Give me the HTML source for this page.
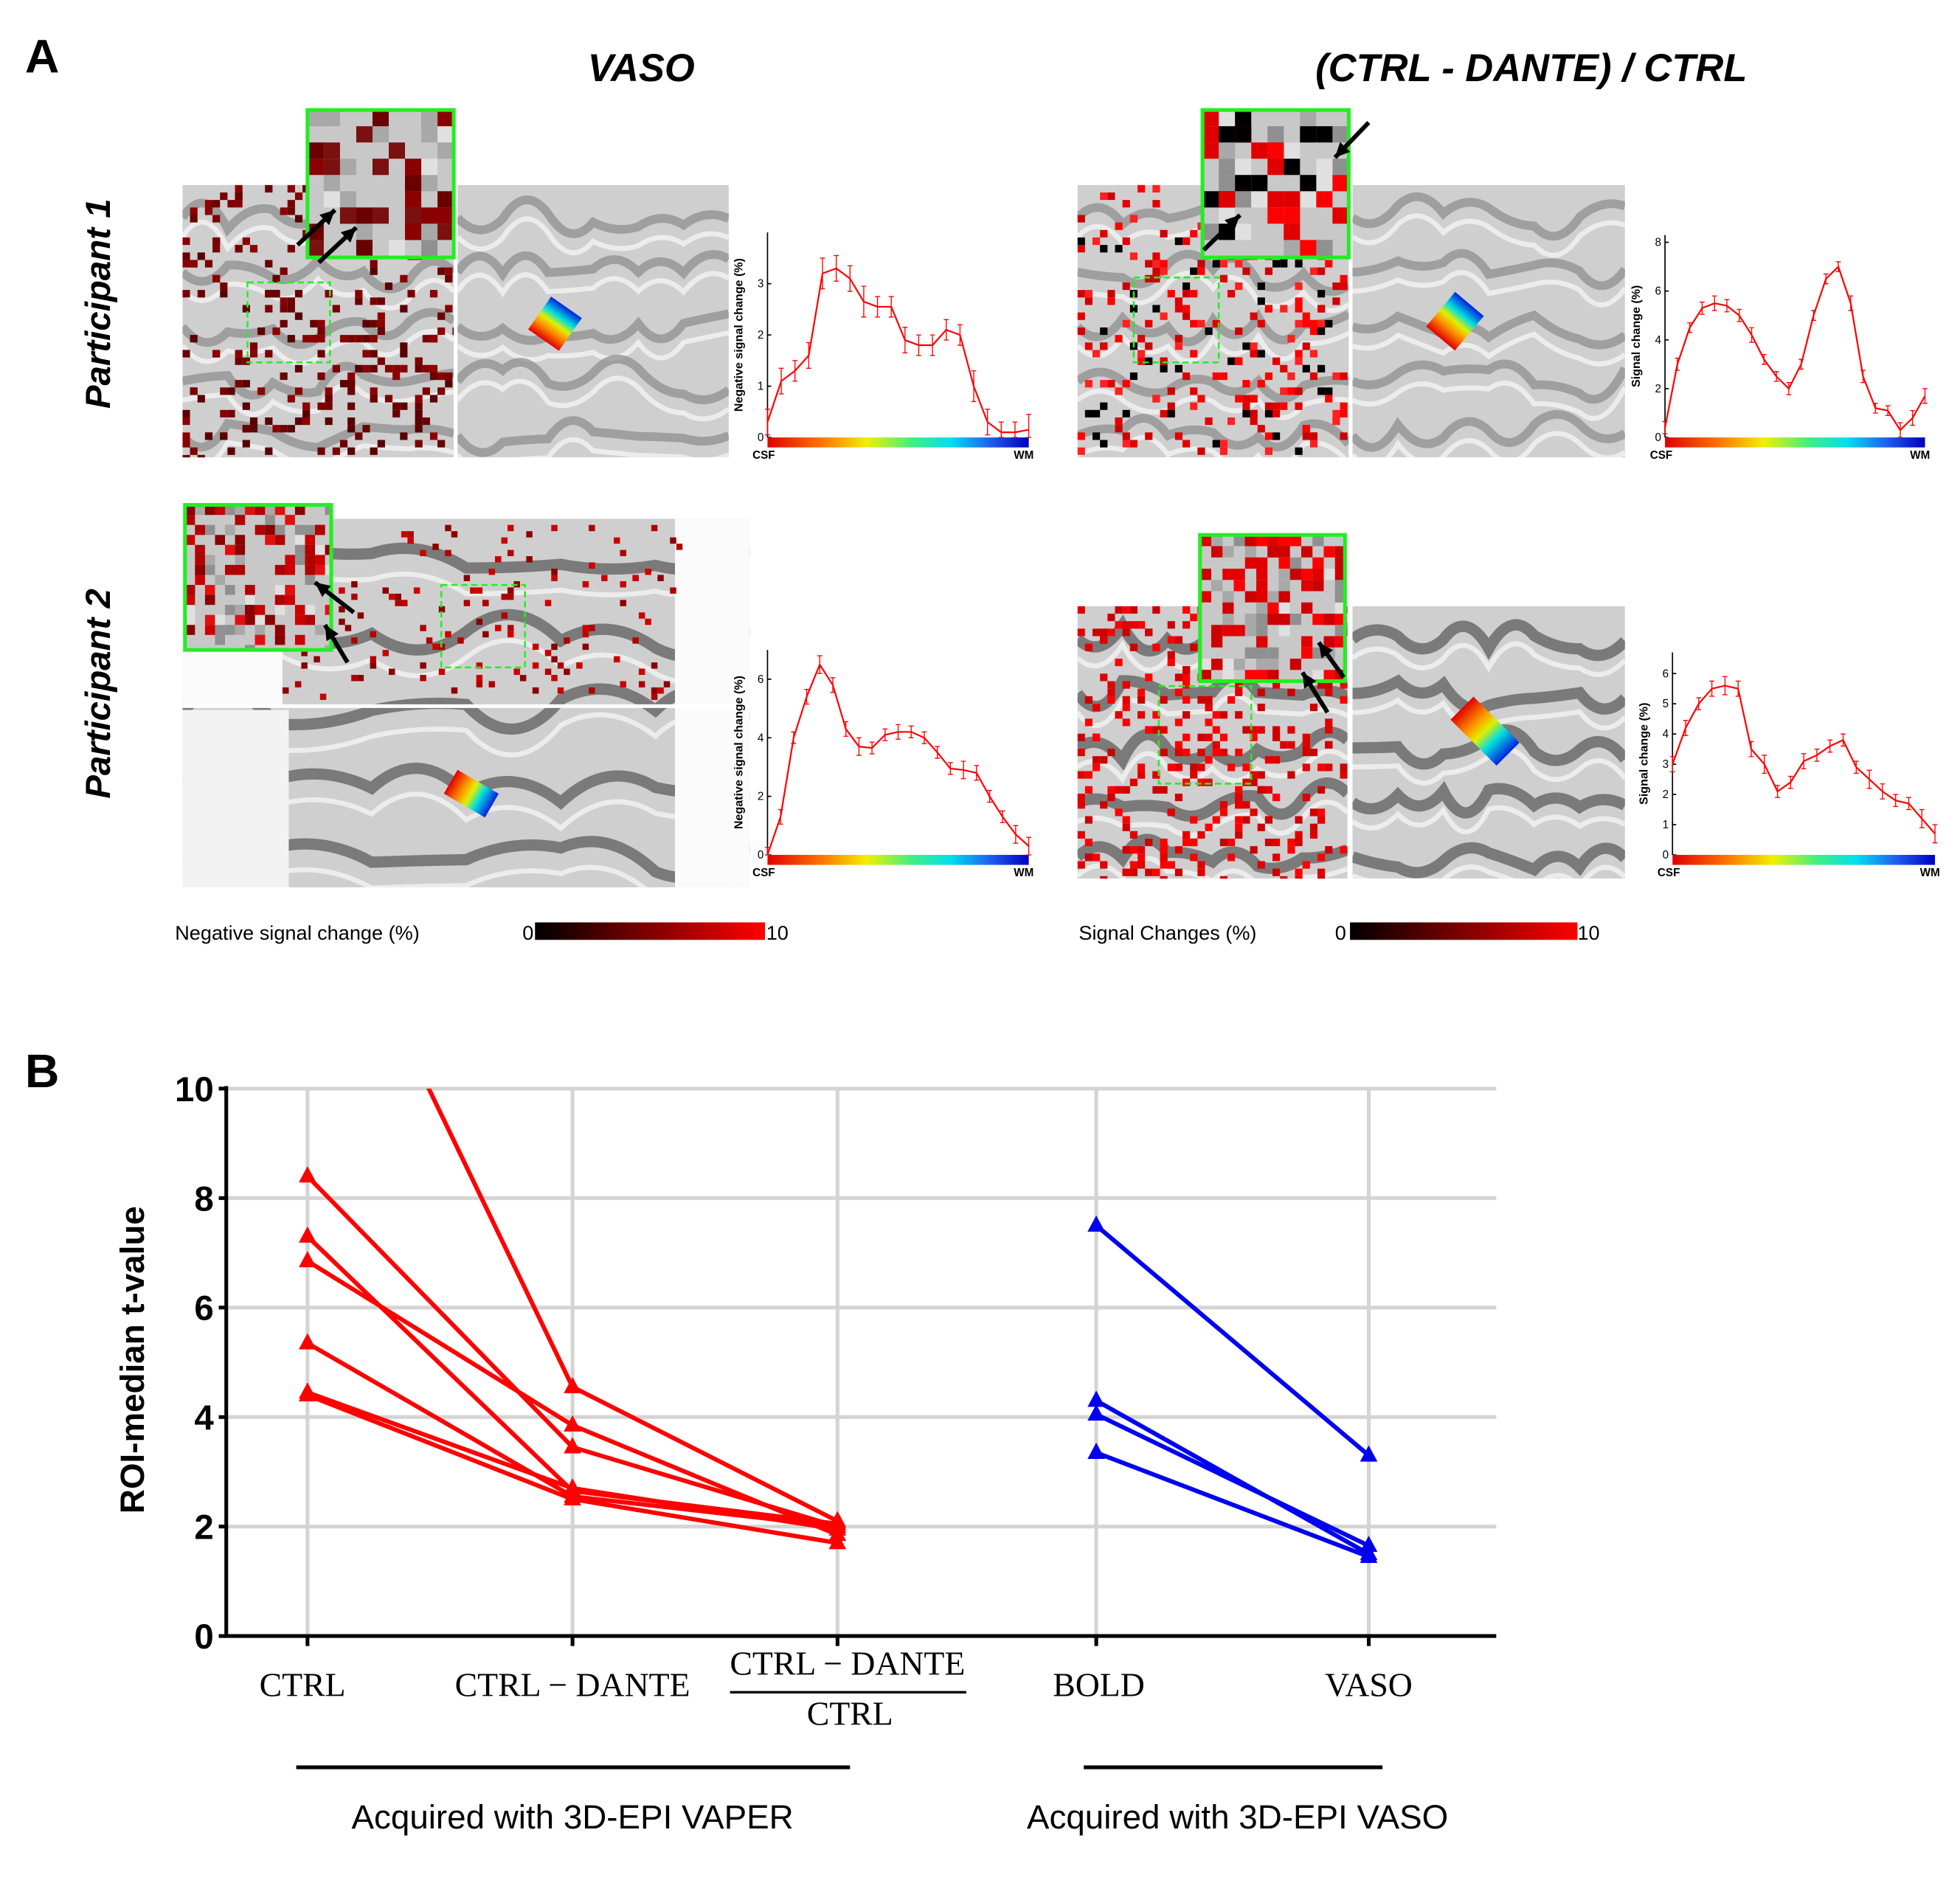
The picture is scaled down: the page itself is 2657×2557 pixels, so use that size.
<!DOCTYPE html>
<html><head><meta charset="utf-8"><style>
html,body{margin:0;padding:0;background:#fff}
svg{display:block;font-family:"Liberation Sans",sans-serif}
</style></head><body>
<svg id="fig" xmlns="http://www.w3.org/2000/svg" width="2657" height="2557" viewBox="0 0 1568 1509">
<defs>
<linearGradient id="rainbow" x1="0" x2="1" y1="0" y2="0">
<stop offset="0" stop-color="#e00000"/><stop offset="0.2" stop-color="#ff7000"/><stop offset="0.38" stop-color="#f0f000"/><stop offset="0.55" stop-color="#40f080"/><stop offset="0.7" stop-color="#00e0f0"/><stop offset="0.85" stop-color="#2060f0"/><stop offset="1" stop-color="#0000c0"/>
</linearGradient>
<linearGradient id="heat" x1="0" x2="1"><stop offset="0" stop-color="#000"/><stop offset="0.5" stop-color="#800000"/><stop offset="1" stop-color="#ff0000"/></linearGradient>
<linearGradient id="rb2" x1="0" x2="1" y1="0" y2="0"><stop offset="0" stop-color="#e00000"/><stop offset="0.3" stop-color="#ff9000"/><stop offset="0.5" stop-color="#e0f000"/><stop offset="0.7" stop-color="#00e0e0"/><stop offset="1" stop-color="#0020e0"/></linearGradient>
</defs>
<text x="20" y="58" font-size="38" font-weight="bold">A</text>
<text x="513" y="65" font-size="31" font-style="italic" font-weight="bold" text-anchor="middle">VASO</text>
<text x="1225" y="65" font-size="31" font-style="italic" font-weight="bold" text-anchor="middle">(CTRL - DANTE) / CTRL</text>
<text transform="translate(88,243) rotate(-90)" font-size="28" font-style="italic" font-weight="bold" text-anchor="middle">Participant 1</text>
<text transform="translate(88,555) rotate(-90)" font-size="28" font-style="italic" font-weight="bold" text-anchor="middle">Participant 2</text>
<g id="imgs"></g>
<g id="profiles"></g>
<text x="140" y="752" font-size="16">Negative signal change (%)</text>
<rect x="428" y="738" width="184" height="14" fill="url(#heat)"/>
<text x="418" y="752" font-size="16">0</text>
<text x="613" y="752" font-size="16">10</text>
<text x="863" y="752" font-size="16">Signal Changes (%)</text>
<rect x="1080" y="738" width="182" height="14" fill="url(#heat)"/>
<text x="1068" y="752" font-size="16">0</text>
<text x="1262" y="752" font-size="16">10</text>

<text x="20" y="870" font-size="38" font-weight="bold">B</text>
<g id="chartB"></g>
<text transform="translate(115,1088) rotate(-90)" font-size="27" font-weight="bold" text-anchor="middle" style="font-weight:600">ROI-median t-value</text>
<line x1="237" y1="1414" x2="680" y2="1414" stroke="#000" stroke-width="3"/>
<line x1="867" y1="1414" x2="1106" y2="1414" stroke="#000" stroke-width="3"/>
<text x="458" y="1463" font-size="27" text-anchor="middle">Acquired with 3D-EPI VAPER</text>
<text x="990" y="1463" font-size="27" text-anchor="middle">Acquired with 3D-EPI VASO</text>
</svg>
<script>
const NS="http://www.w3.org/2000/svg";
function mk(tag,attrs,parent){const e=document.createElementNS(NS,tag);for(const k in attrs)e.setAttribute(k,attrs[k]);parent.appendChild(e);return e;}
// ---------- Panel B data ----------
const bCategories=["CTRL","CTRL − DANTE","RATIO","BOLD","VASO"];
const yTicks=[0,2,4,6,8,10];
const redCTRL=[14.6,8.4,7.3,6.85,5.35,4.45,4.4];
const redCtrlDante=[4.55,3.45,2.65,3.85,2.55,2.7,2.5];
const redRatio=[2.1,2.0,2.05,1.85,2.0,1.95,1.7];
const blueBOLD=[7.5,4.3,4.05,3.35];
const blueVASO=[3.3,1.5,1.65,1.45];
const catX=[246,458,670,877,1095];
const X0=181,X1=1197,Y0=1309,Y10=871;
function yB(v){return Y0-(v/10)*(Y0-Y10);}
const cb=document.getElementById('chartB');
const defs=document.querySelector('defs');
const cp=mk('clipPath',{id:'clipB'},defs);
mk('rect',{x:X0,y:Y10,width:X1-X0,height:Y0-Y10},cp);
yTicks.forEach(t=>{
  if(t>0){const g=mk('line',{x1:X0,x2:X1,y1:yB(t),y2:yB(t),stroke:'#d4d4d4','stroke-width':3},cb);
  
  }
  const l=mk('text',{x:X0-10,y:yB(t)+10,'font-size':28,'font-weight':'bold','text-anchor':'end'},cb);l.textContent=t;
  
  
  const tk=mk('line',{x1:X0-6,x2:X0,y1:yB(t),y2:yB(t),stroke:'#000','stroke-width':3},cb);
  
  
});
catX.forEach((x,i)=>{
  const g=mk('line',{x1:x,x2:x,y1:Y10,y2:Y0,stroke:'#d4d4d4','stroke-width':3},cb);
  
  
  const tk=mk('line',{x1:x,x2:x,y1:Y0,y2:Y0+8,stroke:'#000','stroke-width':3},cb);
  
  
});
const ax=mk('path',{d:`M${X0},${Y10-2}V${Y0}H${X1}`,fill:'none',stroke:'#000','stroke-width':3},cb);


function tri(x,y,c,name){const p=mk('path',{d:`M${x},${y-8}L${x+7},${y+5}L${x-7},${y+5}Z`,fill:c},cb);
  
  }
const lg=mk('g',{'clip-path':'url(#clipB)'},cb);
redCTRL.forEach((v,i)=>{
  const pts=[[catX[0],yB(v)],[catX[1],yB(redCtrlDante[i])],[catX[2],yB(redRatio[i])]];
  const pl=mk('polyline',{points:pts.map(p=>p.join(',')).join(' '),fill:'none',stroke:'#f00','stroke-width':3.5},lg);
  
  
});
redCTRL.forEach((v,i)=>{
  if(v<=10)tri(catX[0],yB(v),'#f00','red-marker-ctrl');
  tri(catX[1],yB(redCtrlDante[i]),'#f00','red-marker-ctrl-dante');
  tri(catX[2],yB(redRatio[i]),'#f00','red-marker-ratio');
});
blueBOLD.forEach((v,i)=>{
  const pl=mk('line',{x1:catX[3],y1:yB(v),x2:catX[4],y2:yB(blueVASO[i]),stroke:'#0000f0','stroke-width':3.5},lg);
  
  
});
blueBOLD.forEach((v,i)=>{tri(catX[3],yB(v),'#0000f0','blue-marker-bold');tri(catX[4],yB(blueVASO[i]),'#0000f0','blue-marker-vaso');});
function xl(x,y,t,name){const e=mk('text',{x:x,y:y,'text-anchor':'middle',style:'font-family:"Liberation Serif",serif;font-size:27px'},cb);e.textContent=t;
  
  }
xl(catX[0]-4,1357,'CTRL','x-label-ctrl');
xl(catX[1],1357,'CTRL − DANTE','x-label-ctrl-dante');
xl(678,1340,'CTRL − DANTE','x-label-ratio-numerator');
const fl=mk('line',{x1:584,x2:773,y1:1354,y2:1354,stroke:'#000','stroke-width':2},cb);


xl(680,1380,'CTRL','x-label-ratio-denominator');
xl(catX[3]+2,1357,'BOLD','x-label-bold');
xl(catX[4],1357,'VASO','x-label-vaso');

// ---------- Panel A images (decorative texture) ----------
let seed=7;function rnd(){seed=(seed*16807)%2147483647;return seed/2147483647;}
const imgs=document.getElementById('imgs');
let clipN=0;
function brain(x,y,w,h,name,dark){
  const id='cl'+(clipN++);
  const c=mk('clipPath',{id:id},defs);mk('rect',{x:x,y:y,width:w,height:h},c);
  const g=mk('g',{'clip-path':`url(#${id})`},imgs);
  
  
  mk('rect',{x:x,y:y,width:w,height:h,fill:'#cfcfcf'},g);
  for(let k=0;k<5;k++){
    let d=`M${x},${y+h*(0.12+k*0.2)}`;
    for(let s=1;s<=6;s++)d+=` Q${x+w*(s-0.5)/6},${y+h*(0.12+k*0.2)+(rnd()-0.5)*h*0.25} ${x+w*s/6},${y+h*(0.12+k*0.2)+(rnd()-0.5)*h*0.1}`;
    mk('path',{d:d,fill:'none',stroke:dark?'#555':'#8a8a8a','stroke-width':dark?9:7,opacity:0.7},g);
    mk('path',{d:d,fill:'none',stroke:'#f2f2f2','stroke-width':4,transform:`translate(0,${h*0.07})`,opacity:0.8},g);
  }
  return g;
}
function speckle(g,x,y,w,h,n,cell,colors){
  for(let i=0;i<n;i++){mk('rect',{x:x+Math.floor(rnd()*w/cell)*cell,y:y+Math.floor(rnd()*h/cell)*cell,width:cell,height:cell,fill:colors[Math.floor(rnd()*colors.length)]},g);}
}
function inset(x,y,w,h,cell,colors,n,name){
  const id='cl'+(clipN++);
  const c=mk('clipPath',{id:id},defs);mk('rect',{x:x,y:y,width:w,height:h},c);
  const g=mk('g',{},imgs);
  
  
  const gi=mk('g',{'clip-path':`url(#${id})`},g);
  mk('rect',{x:x,y:y,width:w,height:h,fill:'#c8c8c8'},gi);
  speckle(gi,x,y,w,h,n,cell,['#e0e0e0','#a8a8a8','#909090']);
  speckle(gi,x,y,w,h,n,cell,colors);
  mk('rect',{x:x,y:y,width:w,height:h,fill:'none',stroke:'#22ee22','stroke-width':3},g);
}
function dashbox(x,y,w,h){const r=mk('rect',{x:x,y:y,width:w,height:h,fill:'none',stroke:'#22ee22','stroke-width':1.5,'stroke-dasharray':'5,3'},imgs);
  
  }
function arrow(x1,y1,x2,y2){const a=mk('g',{},imgs);
  
  
  mk('line',{x1:x1,y1:y1,x2:x2,y2:y2,stroke:'#000','stroke-width':3.5},a);
  const ang=Math.atan2(y2-y1,x2-x1),L=13;
  mk('path',{d:`M${x2},${y2}L${x2-L*Math.cos(ang-0.45)},${y2-L*Math.sin(ang-0.45)}L${x2-L*Math.cos(ang+0.45)},${y2-L*Math.sin(ang+0.45)}Z`,fill:'#000'},a);}
function wedge(x,y,w,h,rot,name){const r=mk('rect',{x:x,y:y,width:w,height:h,fill:'url(#rb2)',transform:`rotate(${rot},${x+w/2},${y+h/2})`},imgs);
  
  }
const darkReds=['#6a0000','#7a0000','#8b0000','#5a0000'];
const brightReds=['#ff0000','#e00000','#cc0000','#000','#ff2020'];
let g;
g=brain(146,148,217,218,'p1-vaso-map',false);speckle(g,146,148,217,218,260,6,darkReds);
brain(366,148,217,218,'p1-vaso-anatomy',false);
wedge(428,244,32,30,-55,'p1-vaso-layer-rainbow');
dashbox(198,226,66,64);
inset(246,88,117,118,13,['#8b0000','#6a0000','#7a1010'],30,'p1-vaso-inset');
arrow(238,196,268,168);arrow(255,210,285,182);
g=brain(862,148,217,218,'p1-ratio-map',false);speckle(g,862,148,217,218,280,6,brightReds);
brain(1082,148,218,218,'p1-ratio-anatomy',false);
wedge(1146,242,36,30,-50,'p1-ratio-layer-rainbow');
dashbox(907,222,68,68);
inset(962,88,117,118,13,['#ff0000','#e00000','#000'],32,'p1-ratio-inset');
arrow(963,200,992,172);arrow(1095,98,1068,126);
g=brain(146,415,454,295,'p2-vaso-map',true);
mk('rect',{x:146,y:415,width:80,height:150,fill:'#fafafa'},g);mk('rect',{x:146,y:568,width:85,height:142,fill:'#f2f2f2'},g);
mk('rect',{x:540,y:415,width:60,height:295,fill:'#fbfbfb'},g);
mk('line',{x1:146,x2:600,y1:565,y2:565,stroke:'#fff','stroke-width':3},g);
speckle(g,226,420,320,140,140,5,['#b00000','#8b0000','#cc0000']);
wedge(358,624,38,22,30,'p2-vaso-layer-rainbow');
dashbox(353,468,67,66);
inset(148,404,117,116,8,['#cc0000','#b00000','#e01010','#8b0000'],70,'p2-vaso-inset');
arrow(283,490,252,466);arrow(278,530,260,500);
g=brain(862,485,216,218,'p2-ratio-map',true);speckle(g,862,485,216,218,330,6,['#ff0000','#e00000','#cc0000']);
brain(1082,485,218,218,'p2-ratio-anatomy',true);
wedge(1162,572,52,26,45,'p2-ratio-layer-rainbow');
dashbox(927,549,74,78);
inset(960,428,116,117,9,['#ff0000','#e00000','#cc0000'],70,'p2-ratio-inset');
arrow(1075,542,1055,514);arrow(1062,570,1042,538);

// ---------- Profile charts ----------
const p1VasoValues=[0.3,1.1,1.3,1.6,3.2,3.3,3.1,2.65,2.55,2.55,1.9,1.8,1.8,2.1,2.0,1.0,0.3,0.1,0.1,0.15];
const p1VasoTicks=[0,1,2,3];
const p1RatioValues=[0.4,3.0,4.5,5.3,5.5,5.4,5.0,4.2,3.2,2.5,2.0,3.0,5.0,6.5,7.0,5.5,2.5,1.2,1.1,0.3,0.8,1.7];
const p1RatioTicks=[0,2,4,6,8];
const p2VasoValues=[0,1.3,4.0,5.4,6.5,5.8,4.3,3.7,3.65,4.1,4.2,4.2,4.0,3.5,2.95,2.9,2.8,2.0,1.3,0.7,0.3];
const p2VasoTicks=[0,2,4,6];
const p2RatioValues=[3.0,4.2,5.0,5.5,5.6,5.5,3.5,3.0,2.1,2.4,3.1,3.3,3.6,3.8,2.9,2.5,2.1,1.8,1.7,1.2,0.7];
const p2RatioTicks=[0,1,2,3,4,5,6];
const errBar=[0.25,0.25,0.2,0.25,0.3,0.25,0.25,0.3,0.2,0.2,0.25,0.2,0.2,0.2,0.2,0.3,0.25,0.2,0.2,0.3,0.3,0.3];
const pr=document.getElementById('profiles');
function profile(x0,x1,y0,ytop,vmax,vals,ticks,ylabel,name){
  const g=mk('g',{},pr);
  
  
  const yv=v=>y0-v/vmax*(y0-ytop);
  const xv=i=>x0+i*(x1-x0)/(vals.length-1);
  mk('line',{x1:x0,x2:x0,y1:ytop,y2:y0,stroke:'#000','stroke-width':1},g);
  ticks.forEach(t=>{const tt=mk('text',{x:x0-3,y:yv(t)+3,'font-size':9,'text-anchor':'end'},g);tt.textContent=t;
    
    
    mk('line',{x1:x0,x2:x0+3,y1:yv(t),y2:yv(t),stroke:'#000'},g);});
  mk('rect',{x:x0,y:y0,width:x1-x0,height:8,fill:'url(#rainbow)'},g);
  const c=mk('text',{x:x0-12,y:y0+17,'font-size':9,'font-weight':'bold'},g);c.textContent='CSF';
  
  
  const w=mk('text',{x:x1-12,y:y0+17,'font-size':9,'font-weight':'bold'},g);w.textContent='WM';
  
  
  const yl=mk('text',{transform:`translate(${x0-20},${(y0+ytop)/2}) rotate(-90)`,'font-size':9.5,'font-weight':'bold','text-anchor':'middle'},g);yl.textContent=ylabel;
  
  
  const line=mk('polyline',{points:vals.map((v,i)=>xv(i)+','+yv(v)).join(' '),fill:'none',stroke:'#f00','stroke-width':1.3},g);
  
  
  vals.forEach((v,i)=>{const e=errBar[i%errBar.length];
    mk('path',{d:`M${xv(i)},${yv(v+e)}V${yv(Math.max(0,v-e))}M${xv(i)-2},${yv(v+e)}h4M${xv(i)-2},${yv(Math.max(0,v-e))}h4`,stroke:'#f00','stroke-width':0.8,fill:'none'},g);});
}
profile(614,823,350,186,4.0,p1VasoValues,p1VasoTicks,'Negative signal change (%)','p1-vaso-profile');
profile(1332,1540,350,188,8.3,p1RatioValues,p1RatioTicks,'Signal change (%)','p1-ratio-profile');
profile(614,823,684,520,7.0,p2VasoValues,p2VasoTicks,'Negative signal change (%)','p2-vaso-profile');
profile(1338,1548,684,522,6.7,p2RatioValues,p2RatioTicks,'Signal change (%)','p2-ratio-profile');
</script>
</body></html>
